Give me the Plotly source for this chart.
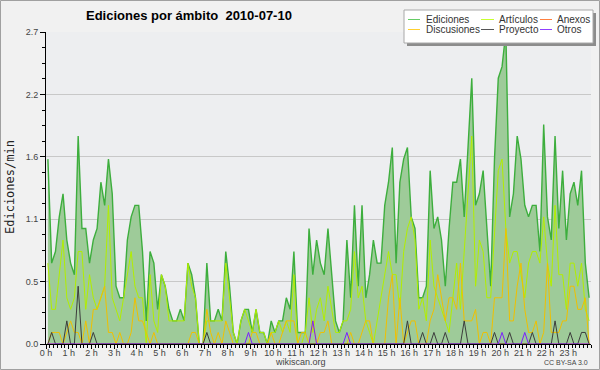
import plotly.graph_objects as go

# 10-minute bins, 0:00 .. 23:50 (values in edits per minute)
hour_labels = [f"{h} h" for h in range(24)]
hour_ticks = list(range(24))

ediciones = [
    1.6, 0.7, 0.8, 1.1, 1.3, 0.9, 0.7, 0.6, 1.8, 1.0,
    1.0, 0.7, 0.9, 1.0, 1.4, 1.2, 1.6, 1.3, 0.5, 0.4,
    0.4, 0.9, 1.1, 1.2, 1.2, 0.8, 0.2, 0.8, 0.7, 0.3,
    0.6, 0.5, 0.3, 0.2, 0.2, 0.3, 0.2, 0.7, 0.6, 0.4,
    0.0, 0.0, 0.7, 0.2, 0.2, 0.3, 0.2, 0.8, 0.5, 0.1,
    0.0, 0.2, 0.3, 0.3, 0.1, 0.3, 0.1, 0.1, 0.0, 0.2,
    0.1, 0.2, 0.2, 0.4, 0.3, 0.8, 0.1, 0.1, 0.1, 1.0,
    0.6, 0.9, 0.7, 0.6, 1.0, 0.6, 0.2, 0.1, 0.2, 0.9,
    0.4, 1.2, 0.5, 1.2, 0.4, 0.6, 0.9, 0.7, 0.7, 1.2,
    1.4, 1.7, 0.7, 1.4, 1.6, 1.7, 1.1, 1.0, 0.4, 0.4,
    0.5, 1.5, 1.0, 1.1, 0.9, 0.5, 1.0, 1.4, 1.4, 1.6,
    1.1, 1.7, 2.3, 1.2, 1.3, 1.5, 1.0, 0.5, 1.6, 2.3,
    2.4, 2.7, 1.1, 1.3, 1.8, 1.6, 1.2, 1.1, 1.2, 1.2,
    0.8, 1.9, 1.1, 0.9, 1.8, 1.0, 1.5, 0.9, 1.3, 1.4,
    1.2, 1.5, 0.7, 0.4,
]
articulos = [
    0.7, 0.3, 0.3, 0.6, 0.9, 0.4, 0.3, 0.4, 0.8, 0.8,
    0.3, 0.6, 0.4, 0.3, 0.4, 0.5, 1.2, 0.4, 0.3, 0.2,
    0.4, 0.6, 0.8, 0.5, 0.4, 0.4, 0.0, 0.6, 0.2, 0.1,
    0.6, 0.5, 0.2, 0.2, 0.2, 0.2, 0.2, 0.7, 0.5, 0.4,
    0.0, 0.0, 0.2, 0.2, 0.2, 0.2, 0.2, 0.7, 0.4, 0.1,
    0.0, 0.2, 0.3, 0.2, 0.1, 0.3, 0.1, 0.1, 0.0, 0.1,
    0.1, 0.2, 0.1, 0.2, 0.1, 0.6, 0.0, 0.0, 0.1, 0.4,
    0.1, 0.3, 0.4, 0.2, 0.5, 0.3, 0.1, 0.1, 0.2, 0.2,
    0.3, 0.8, 0.4, 0.5, 0.2, 0.1, 0.0, 0.2, 0.4, 0.6,
    0.8, 0.6, 0.6, 0.3, 0.8, 1.0, 1.1, 0.9, 0.3, 0.4,
    0.2, 0.9, 0.5, 0.4, 0.3, 0.2, 0.1, 0.4, 0.7, 0.3,
    0.8, 1.3, 1.8, 0.5, 0.9, 0.8, 0.4, 0.4, 1.0, 1.5,
    1.6, 1.0, 0.7, 0.8, 0.8, 0.6, 0.4, 0.7, 0.8, 0.8,
    0.7, 1.1, 0.7, 0.5, 1.2, 0.6, 0.6, 0.3, 0.7, 0.7,
    0.5, 0.7, 0.3, 0.2,
]
anexos = [
    0.0, 0.0, 0.0, 0.0, 0.0, 0.0, 0.0, 0.0, 0.0, 0.0,
    0.0, 0.0, 0.0, 0.0, 0.0, 0.0, 0.0, 0.0, 0.0, 0.0,
    0.0, 0.0, 0.0, 0.0, 0.0, 0.0, 0.0, 0.0, 0.0, 0.0,
    0.0, 0.0, 0.0, 0.0, 0.0, 0.0, 0.0, 0.0, 0.0, 0.0,
    0.0, 0.0, 0.0, 0.0, 0.0, 0.0, 0.0, 0.0, 0.0, 0.0,
    0.0, 0.0, 0.0, 0.0, 0.0, 0.0, 0.0, 0.0, 0.0, 0.0,
    0.0, 0.0, 0.0, 0.0, 0.0, 0.0, 0.0, 0.0, 0.0, 0.0,
    0.0, 0.0, 0.0, 0.0, 0.0, 0.0, 0.0, 0.0, 0.0, 0.0,
    0.0, 0.0, 0.0, 0.0, 0.0, 0.0, 0.0, 0.0, 0.0, 0.0,
    0.0, 0.0, 0.0, 0.0, 0.0, 0.0, 0.0, 0.0, 0.0, 0.0,
    0.0, 0.0, 0.0, 0.0, 0.0, 0.0, 0.0, 0.0, 0.0, 0.0,
    0.0, 0.0, 0.0, 0.0, 0.0, 0.0, 0.0, 0.0, 0.0, 0.0,
    0.0, 0.0, 0.0, 0.0, 0.0, 0.0, 0.0, 0.0, 0.0, 0.0,
    0.0, 0.0, 0.0, 0.0, 0.0, 0.0, 0.0, 0.0, 0.0, 0.0,
    0.0, 0.0, 0.0, 0.0,
]
discusiones = [
    0.0, 0.1, 0.1, 0.1, 0.0, 0.1, 0.2, 0.1, 0.1, 0.0,
    0.2, 0.0, 0.3, 0.3, 0.4, 0.5, 0.1, 0.1, 0.0, 0.1,
    0.0, 0.0, 0.1, 0.4, 0.2, 0.2, 0.1, 0.0, 0.1, 0.0,
    0.0, 0.0, 0.0, 0.0, 0.0, 0.0, 0.0, 0.0, 0.1, 0.1,
    0.0, 0.0, 0.3, 0.1, 0.0, 0.1, 0.0, 0.2, 0.1, 0.0,
    0.0, 0.0, 0.0, 0.0, 0.1, 0.1, 0.0, 0.0, 0.0, 0.1,
    0.0, 0.0, 0.1, 0.2, 0.2, 0.2, 0.0, 0.1, 0.1, 0.0,
    0.2, 0.0, 0.1, 0.1, 0.2, 0.0, 0.0, 0.0, 0.0, 0.0,
    0.1, 0.0, 0.0, 0.1, 0.2, 0.2, 0.0, 0.0, 0.0, 0.0,
    0.4, 0.6, 0.0, 0.4, 0.0, 0.1, 0.2, 0.2, 0.0, 0.0,
    0.0, 0.2, 0.3, 0.6, 0.4, 0.2, 0.4, 0.4, 0.3, 0.7,
    0.2, 0.2, 0.2, 0.3, 0.0, 0.1, 0.1, 0.0, 0.4, 0.4,
    0.4, 1.0, 0.2, 0.2, 0.5, 0.7, 0.3, 0.1, 0.1, 0.2,
    0.0, 0.1, 0.7, 0.1, 0.1, 0.1, 0.2, 0.2, 0.5, 0.5,
    0.3, 0.3, 0.4, 0.0,
]
proyecto = [
    0.0, 0.1, 0.0, 0.0, 0.0, 0.2, 0.0, 0.0, 0.5, 0.0,
    0.0, 0.0, 0.1, 0.0, 0.0, 0.0, 0.0, 0.0, 0.0, 0.0,
    0.0, 0.0, 0.0, 0.0, 0.0, 0.0, 0.0, 0.0, 0.0, 0.0,
    0.0, 0.0, 0.0, 0.0, 0.0, 0.0, 0.0, 0.0, 0.0, 0.0,
    0.0, 0.0, 0.1, 0.0, 0.0, 0.0, 0.0, 0.0, 0.0, 0.0,
    0.0, 0.0, 0.0, 0.0, 0.0, 0.0, 0.0, 0.0, 0.0, 0.0,
    0.0, 0.0, 0.0, 0.0, 0.0, 0.0, 0.0, 0.0, 0.0, 0.0,
    0.0, 0.0, 0.0, 0.0, 0.0, 0.0, 0.0, 0.0, 0.0, 0.0,
    0.0, 0.0, 0.0, 0.0, 0.0, 0.0, 0.0, 0.0, 0.0, 0.0,
    0.0, 0.0, 0.0, 0.0, 0.0, 0.2, 0.0, 0.0, 0.0, 0.1,
    0.0, 0.0, 0.1, 0.0, 0.0, 0.1, 0.0, 0.0, 0.0, 0.0,
    0.2, 0.0, 0.0, 0.0, 0.0, 0.0, 0.0, 0.0, 0.1, 0.0,
    0.0, 0.0, 0.1, 0.0, 0.0, 0.0, 0.0, 0.0, 0.1, 0.0,
    0.0, 0.0, 0.0, 0.0, 0.2, 0.0, 0.0, 0.0, 0.1, 0.0,
    0.0, 0.1, 0.1, 0.0,
]
otros = [
    0.0, 0.0, 0.0, 0.0, 0.0, 0.0, 0.0, 0.0, 0.0, 0.0,
    0.0, 0.0, 0.0, 0.0, 0.0, 0.0, 0.0, 0.0, 0.0, 0.0,
    0.0, 0.0, 0.0, 0.0, 0.0, 0.0, 0.0, 0.0, 0.0, 0.0,
    0.0, 0.0, 0.0, 0.0, 0.0, 0.0, 0.0, 0.0, 0.0, 0.0,
    0.0, 0.0, 0.0, 0.0, 0.0, 0.0, 0.0, 0.0, 0.0, 0.0,
    0.0, 0.0, 0.0, 0.1, 0.0, 0.0, 0.0, 0.0, 0.0, 0.0,
    0.0, 0.0, 0.0, 0.0, 0.0, 0.0, 0.0, 0.0, 0.0, 0.0,
    0.2, 0.0, 0.0, 0.0, 0.0, 0.0, 0.0, 0.0, 0.0, 0.1,
    0.0, 0.0, 0.0, 0.0, 0.0, 0.0, 0.0, 0.0, 0.0, 0.0,
    0.0, 0.0, 0.0, 0.0, 0.0, 0.0, 0.0, 0.0, 0.0, 0.0,
    0.0, 0.0, 0.0, 0.0, 0.0, 0.0, 0.0, 0.0, 0.0, 0.0,
    0.0, 0.0, 0.0, 0.0, 0.0, 0.0, 0.0, 0.0, 0.0, 0.0,
    0.1, 0.0, 0.0, 0.0, 0.0, 0.0, 0.1, 0.0, 0.0, 0.0,
    0.0, 0.0, 0.0, 0.0, 0.0, 0.0, 0.0, 0.0, 0.0, 0.0,
    0.0, 0.0, 0.0, 0.0,
]

y_tickvals = [0, 0.54, 1.08, 1.62, 2.16, 2.7]
y_ticktext = ["0.0", "0.5", "1.1", "1.6", "2.2", "2.7"]

# bin centres, in hours
x = [(i + 0.5) / 6 for i in range(len(ediciones))]

W, H = 600, 370
ML, MR, MT, MB = 46, 9, 32, 26
PW, PH = W - ML - MR, H - MT - MB


def px(v):
    return (v - ML) / PW


def py(v):
    return (H - MB - v) / PH


FONT = "Liberation Sans, Arial, sans-serif"

fig = go.Figure()
fig.add_trace(go.Scatter(x=x, y=ediciones, mode="lines", name="Ediciones",
                         line=dict(color="#3DAE3D", width=1.4),
                         fill="tozeroy", fillcolor="#9ECB99", showlegend=False))
series = [
    ("Artículos", articulos, "#B2EE00"),
    ("Anexos", anexos, "#FF7F40"),
    ("Discusiones", discusiones, "#F0C000"),
    ("Proyecto", proyecto, "#3C3C3C"),
    ("Otros", otros, "#7A1FFF"),
]
for name, vals, col in series:
    fig.add_trace(go.Scatter(x=x, y=vals, mode="lines", name=name,
                             line=dict(color=col, width=1), showlegend=False))

shapes = []
annotations = []

# outer border of image
shapes.append(dict(type="rect", xref="paper", yref="paper",
                   x0=px(0.5), x1=px(599.5), y0=py(369.5), y1=py(0.5),
                   line=dict(color="#A0A0A0", width=1), layer="above"))

# legend shadow + box
shapes.append(dict(type="rect", xref="paper", yref="paper",
                   x0=px(407), x1=px(596), y0=py(46), y1=py(13),
                   fillcolor="#8C8C8C", line=dict(width=0), layer="above"))
shapes.append(dict(type="rect", xref="paper", yref="paper",
                   x0=px(404), x1=px(593), y0=py(43), y1=py(10),
                   fillcolor="#FFFFFF", line=dict(color="#A8A8A8", width=1), layer="above"))

legend_items = [
    ("Ediciones", "#66CC66", 408, 420, 424, 19.5),
    ("Artículos", "#C8FF30", 481, 494, 497, 19.5),
    ("Anexos", "#FF8040", 540, 552, 555, 19.5),
    ("Discusiones", "#FFD030", 408, 420, 424, 29.5),
    ("Proyecto", "#555555", 481, 494, 497, 29.5),
    ("Otros", "#9040FF", 540, 552, 555, 29.5),
]
for name, col, lx0, lx1, tx, ty in legend_items:
    shapes.append(dict(type="line", xref="paper", yref="paper",
                       x0=px(lx0), x1=px(lx1), y0=py(ty), y1=py(ty),
                       line=dict(color=col, width=1), layer="above"))
    annotations.append(dict(xref="paper", yref="paper", x=px(tx), y=py(ty),
                            xanchor="left", yanchor="middle", showarrow=False,
                            text=name, font=dict(family=FONT, size=10, color="#333333")))

# title
annotations.append(dict(xref="paper", yref="paper", x=px(84), y=py(16),
                        xanchor="left", yanchor="middle", showarrow=False,
                        text="<b>Ediciones por ámbito\u00a0\u00a02010-07-10</b>",
                        font=dict(family=FONT, size=13, color="#000000")))
# y-axis title
annotations.append(dict(xref="paper", yref="paper", x=px(10), y=py(187),
                        xanchor="center", yanchor="middle", showarrow=False,
                        textangle=-90, text="Ediciones/min",
                        font=dict(family="DejaVu Sans Mono, monospace", size=12, color="#222222")))
# footer texts
annotations.append(dict(xref="paper", yref="paper", x=px(300), y=py(362),
                        xanchor="center", yanchor="middle", showarrow=False,
                        text="wikiscan.org",
                        font=dict(family=FONT, size=9, color="#444444")))
annotations.append(dict(xref="paper", yref="paper", x=px(590), y=py(362),
                        xanchor="right", yanchor="middle", showarrow=False,
                        text="CC BY-SA 3.0",
                        font=dict(family=FONT, size=7, color="#444444")))

fig.update_layout(
    width=W, height=H,
    margin=dict(l=ML, r=MR, t=MT, b=MB, pad=0),
    paper_bgcolor="#F1F1F1",
    plot_bgcolor="#EDEEF0",
    showlegend=False,
    shapes=shapes,
    annotations=annotations,
    xaxis=dict(range=[0, 24], tickmode="array", tickvals=hour_ticks, ticktext=hour_labels,
               ticks="outside", ticklen=4, tickcolor="#000000", tickwidth=1,
               ticklabelstandoff=-4,
               showline=True, linecolor="#000000", linewidth=1,
               showgrid=False, zeroline=False,
               tickfont=dict(family=FONT, size=9, color="#444444"),
               minor=dict(dtick=1 / 6, tick0=0, ticks="outside", ticklen=3,
                          tickcolor="#000000", showgrid=False)),
    yaxis=dict(range=[0, 2.7], tickmode="array", tickvals=y_tickvals, ticktext=y_ticktext,
               ticks="outside", ticklen=5, tickcolor="#000000", tickwidth=1,
               showline=True, linecolor="#000000", linewidth=1,
               showgrid=True, gridcolor="#C8C8C8", gridwidth=1, zeroline=False,
               tickfont=dict(family=FONT, size=9, color="#444444"),
               minor=dict(dtick=0.135, tick0=0, ticks="outside", ticklen=3,
                          tickcolor="#000000", showgrid=False)),
)

fig.write_html("out.html",
               config={"displayModeBar": False},
               post_script="document.body.style.margin='0';document.body.style.padding='0';"
                           "document.body.style.overflow='hidden';")
